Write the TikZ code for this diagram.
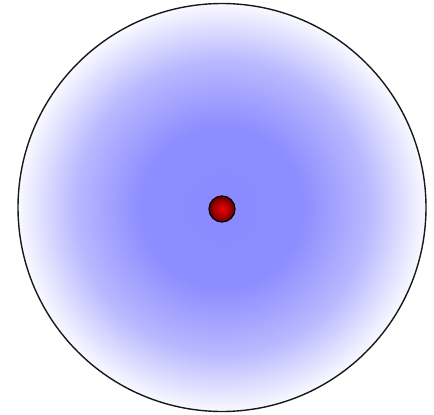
\documentclass[tikz,border=0pt]{standalone}
\definecolor{cblue}{RGB}{138,138,255}
\definecolor{cred}{RGB}{245,0,0}
\definecolor{dred}{RGB}{100,0,0}
\pgfdeclareradialshading{bluefade}{\pgfpoint{0bp}{0bp}}{color(0bp)=(cblue); color(10bp)=(cblue!97!white); color(18bp)=(cblue!60!white); color(25bp)=(white!95!cblue); color(26bp)=(white); color(50bp)=(white)}
\pgfdeclareradialshading{redball}{\pgfpoint{0bp}{0bp}}{color(0bp)=(cred); color(7bp)=(cred!85!black); color(25bp)=(dred); color(50bp)=(dred)}
\begin{document}
\begin{tikzpicture}[x=1pt,y=-1pt,
  outer/.style={circle,draw=black!90,line width=1.4pt,shading=bluefade,minimum size=408pt,inner sep=0pt},
  dot/.style={circle,draw=black,line width=1.2pt,shading=redball,minimum size=26pt,inner sep=0pt}]
\useasboundingbox (0,0) rectangle (434,415);
\node[outer] (disk) at (222,207.5) {};
\node[dot] (center) at (222,209) {};
\end{tikzpicture}
\end{document}
